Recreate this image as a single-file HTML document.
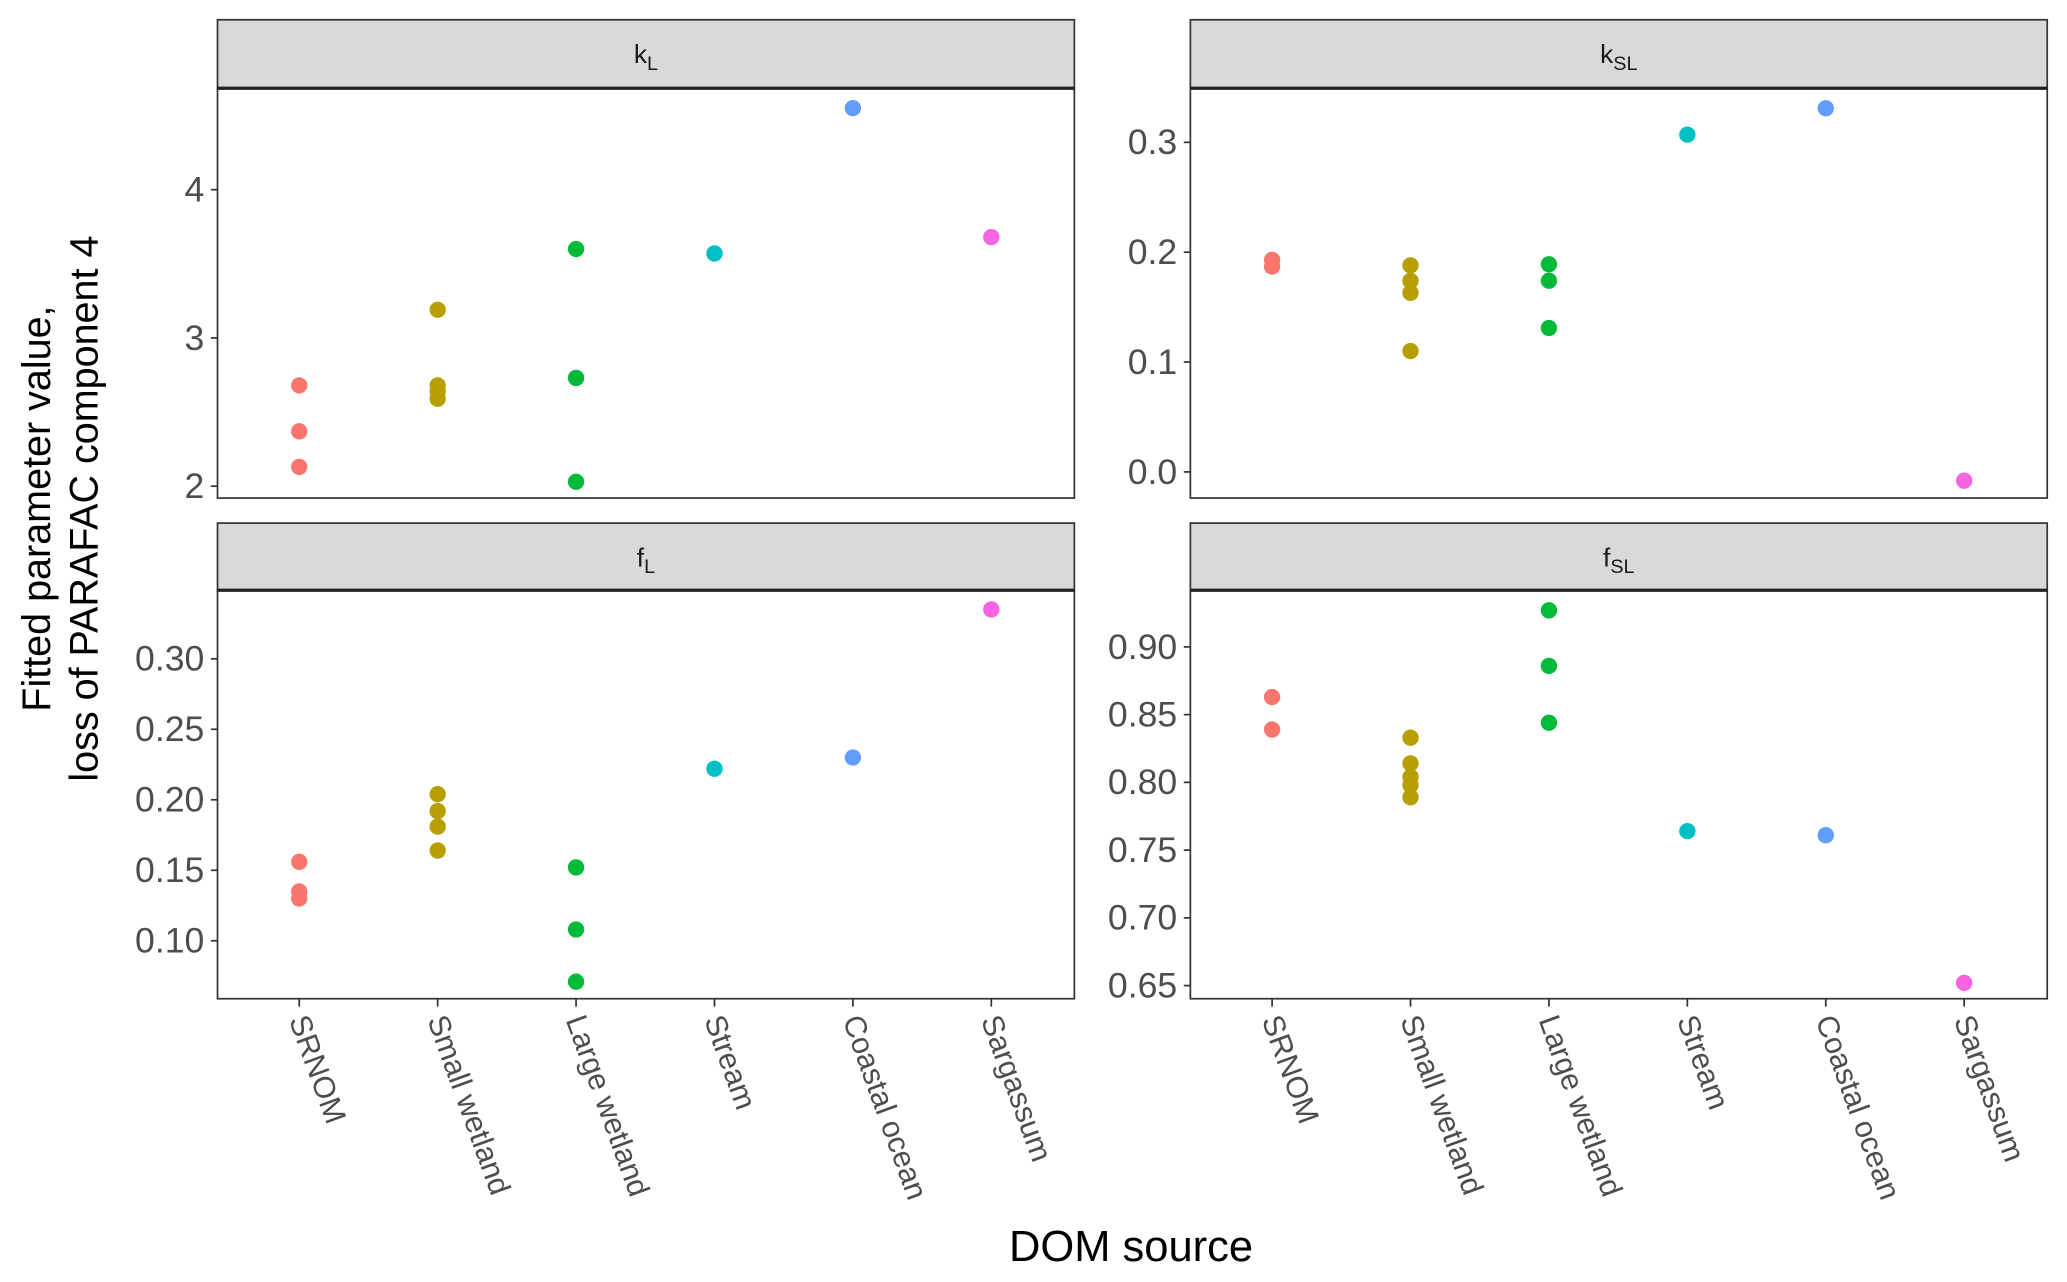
<!DOCTYPE html>
<html><head><meta charset="utf-8"><style>
html,body{margin:0;padding:0;background:#fff;}
svg{display:block;font-family:"Liberation Sans",Arial,sans-serif;}
</style></head><body>
<svg id="chart" width="2067" height="1282" viewBox="0 0 1568 973" preserveAspectRatio="none" xmlns="http://www.w3.org/2000/svg">
<text transform="translate(38,386) rotate(-90)" text-anchor="middle" font-size="30" fill="#000">Fitted parameter value,</text>
<text transform="translate(74,386) rotate(-90)" text-anchor="middle" font-size="30" fill="#000">loss of PARAFAC component 4</text>
<text x="858" y="957" text-anchor="middle" font-size="33" fill="#000">DOM source</text>
</svg>
<script>
const categories = ["SRNOM","Small wetland","Large wetland","Stream","Coastal ocean","Sargassum"];
const colors = ["#F8766D","#B79F00","#00BA38","#00BFC4","#619CFF","#F564E3"];
const kL_values = [[2.68,2.37,2.13],[3.19,2.68,2.64,2.59],[3.60,2.73,2.03],[3.57],[4.55],[3.68]];
const kSL_values = [[0.193,0.187],[0.188,0.174,0.163,0.110],[0.189,0.174,0.131],[0.307],[0.331],[-0.008]];
const fL_values = [[0.156,0.135,0.130],[0.204,0.192,0.181,0.164],[0.152,0.108,0.071],[0.222],[0.230],[0.335]];
const fSL_values = [[0.863,0.839],[0.833,0.814,0.804,0.798,0.789],[0.927,0.886,0.844],[0.764],[0.761],[0.652]];
const kL_ticks = [2,3,4];
const kSL_ticks = [0.0,0.1,0.2,0.3];
const fL_ticks = [0.10,0.15,0.20,0.25,0.30];
const fSL_ticks = [0.65,0.70,0.75,0.80,0.85,0.90];

const NS="http://www.w3.org/2000/svg";
const svg=document.getElementById('chart');
function mk(tag,attrs,parent){const e=document.createElementNS(NS,tag);for(const k in attrs)e.setAttribute(k,attrs[k]);(parent||svg).appendChild(e);return e;}

const panels=[
 {name:'kL',main:'k',sub:'L',x0:165,x1:815,y0:15,top:67,bot:378,dmin:1.92,dmax:4.684,vals:kL_values,ticks:kL_ticks,dec:0,xlab:false},
 {name:'kSL',main:'k',sub:'SL',x0:903,x1:1553,y0:15,top:67,bot:378,dmin:-0.0238,dmax:0.3492,vals:kSL_values,ticks:kSL_ticks,dec:1,xlab:false},
 {name:'fL',main:'f',sub:'L',x0:165,x1:815,y0:397,top:448,bot:758,dmin:0.0589,dmax:0.3486,vals:fL_values,ticks:fL_ticks,dec:2,xlab:true},
 {name:'fSL',main:'f',sub:'SL',x0:903,x1:1553,y0:397,top:448,bot:758,dmin:0.6403,dmax:0.9418,vals:fSL_values,ticks:fSL_ticks,dec:2,xlab:true}
];
panels.forEach(p=>{
  const g=mk('g',{});
  
  
  const xs=i=>p.x0+62+i*105;
  const ys=v=>p.bot-(v-p.dmin)/(p.dmax-p.dmin)*(p.bot-p.top);
  const strip=mk('rect',{x:p.x0,y:p.y0,width:p.x1-p.x0,height:p.top-p.y0,fill:'#d9d9d9',stroke:'#333','stroke-width':1.3},g);
  
  
  const st=mk('text',{x:(p.x0+p.x1)/2,y:p.y0+33,'text-anchor':'middle','font-size':20,fill:'#1a1a1a'},g);
  
  
  st.textContent=p.main;
  const ts=mk('tspan',{'font-size':15,dy:5},st);ts.textContent=p.sub;
  const bg=mk('rect',{x:p.x0,y:p.top,width:p.x1-p.x0,height:p.bot-p.top,fill:'#fff',stroke:'#333','stroke-width':1.3},g);
  
  
  mk('line',{x1:p.x0,x2:p.x1,y1:p.top,y2:p.top,stroke:'#222','stroke-width':2.5},g);
  p.ticks.forEach(t=>{
    const y=ys(t);
    const tl=mk('line',{x1:p.x0-5,x2:p.x0,y1:y,y2:y,stroke:'#333','stroke-width':1.3},g);
    
    
    const tx=mk('text',{x:p.x0-10,y:y+9,'text-anchor':'end','font-size':27,fill:'#4d4d4d'},g);
    
    
    tx.textContent=t.toFixed(p.dec);
  });
  categories.forEach((c,i)=>{
    if(p.xlab){
      const x=xs(i);
      const tl=mk('line',{x1:x,x2:x,y1:p.bot,y2:p.bot+6,stroke:'#333','stroke-width':1.3},g);
      
      
      const tx=mk('text',{transform:`translate(${x-8},${p.bot+16}) rotate(70)`,'font-size':23,fill:'#4d4d4d'},g);
      
      
      tx.textContent=c;
    }
    p.vals[i].forEach(v=>{
      const pt=mk('circle',{cx:xs(i),cy:ys(v),r:6.2,fill:colors[i]},g);
      
      
    });
  });
});
</script>
</body></html>
